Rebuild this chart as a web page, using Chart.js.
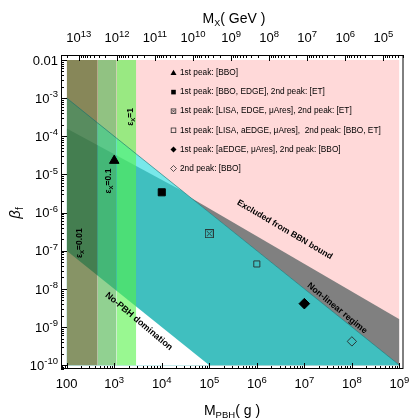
<!DOCTYPE html>
<html>
<head>
<meta charset="utf-8">
<script src="https://cdn.jsdelivr.net/npm/chart.js@4.4.0/dist/chart.umd.min.js"></script>
<style>
  html, body { margin: 0; padding: 0; background: #fff; }
  #wrap { width: 410px; height: 420px; }
</style>
</head>
<body>
<div id="wrap"><canvas id="chart" width="410" height="420"></canvas></div>
<script>
// 數據點：M_PBH (g) 與 β_f
const mPBH = [1e3, 1e4, 1e5, 1e6, 1e7, 1e8];
const betaF = [2.3e-5, 3.4e-6, 2.8e-7, 4.5e-8, 4.1e-9, 4.2e-10];
const peakLabels = [
  '1st peak: [BBO]',
  '1st peak: [BBO, EDGE], 2nd peak: [ET]',
  '1st peak: [LISA, EDGE, \u03bcAres], 2nd peak: [ET]',
  '1st peak: [LISA, aEDGE, \u03bcAres],  2nd peak: [BBO, ET]',
  '1st peak: [aEDGE, \u03bcAres], 2nd peak: [BBO]',
  '2nd peak: [BBO]'
];

// 區域邊界
const bbnM = [1e2, 1e9];              // 青色區上緣
const bbnBeta = [1e-3, 1e-10];
const nonLinM = [4e4, 1e9];           // 非線性區上緣
const nonLinBeta = [2.5e-6, 1.6e-9];
const cyanLowM = [1e2, 2.6e4];        // 淺青色楔形下緣
const cyanLowBeta = [1.6e-4, 3.8e-6];
const noPbhM = [1e2, 1e5];            // No-PBH domination
const noPbhBeta = [1e-7, 1e-10];
const epsEdges = [1e2, 450, 1120, 2900];
const epsValues = ['0.01', '0.1', '1'];
const betaTop = 1e-2, betaBottom = 1e-10;

// 刻度標籤（^ 之後為上標）
const xTickVals = [1e2, 1e3, 1e4, 1e5, 1e6, 1e7, 1e8, 1e9];
const xTickLabels = ['100', '10^3', '10^4', '10^5', '10^6', '10^7', '10^8', '10^9'];
const yTickVals = [1e-2, 1e-3, 1e-4, 1e-5, 1e-6, 1e-7, 1e-8, 1e-9, 1e-10];
const yTickLabels = ['0.01', '10^-3', '10^-4', '10^-5', '10^-6', '10^-7', '10^-8', '10^-9', '10^-10'];
const mxTickVals = [1e13, 1e12, 1e11, 1e10, 1e9, 1e8, 1e7, 1e6, 1e5];
const mxTickLabels = ['10^13', '10^12', '10^11', '10^10', '10^9', '10^8', '10^7', '10^6', '10^5'];

const FONT = '"Liberation Sans", Arial, sans-serif';
Chart.defaults.font.family = FONT;
Chart.defaults.color = '#000';

function pts(xs, ys) { return xs.map((x, i) => ({x: x, y: ys[i]})); }

// 填色區域
function region(data, color, order) {
  return {
    data: data, showLine: true, borderWidth: 0, borderColor: 'rgba(0,0,0,0)',
    backgroundColor: color, pointRadius: 0, pointHoverRadius: 0,
    fill: {value: betaBottom}, order: order
  };
}

// 帶叉方框點樣式
function crossSquare(size) {
  const c = document.createElement('canvas');
  c.width = c.height = size;
  const g = c.getContext('2d');
  g.strokeStyle = '#2a3a3a';
  g.lineWidth = 1;
  g.strokeRect(0.5, 0.5, size - 1, size - 1);
  g.beginPath();
  g.moveTo(2, 2); g.lineTo(size - 2, size - 2);
  g.moveTo(size - 2, 2); g.lineTo(2, size - 2);
  g.stroke();
  return c;
}

const bandColors = ['rgba(70,90,20,0.65)', 'rgba(72,178,72,0.6)', 'rgba(85,243,72,0.6)'];

const datasets = [];
// 點
datasets.push({
  data: pts(mPBH, betaF),
  pointStyle: ['triangle', 'rect', crossSquare(9), 'rect', 'rectRot', 'rectRot'],
  pointRadius: [5.5, 5, 5, 4.3, 5.3, 4.7],
  backgroundColor: ['#000', '#000', 'rgba(0,0,0,0)', 'rgba(0,0,0,0)', '#000', 'rgba(0,0,0,0)'],
  borderColor: ['#000', '#000', '#2a3a3a', '#2a3a3a', '#000', '#2a3a3a'],
  pointBorderWidth: 1,
  order: 0
});
// 青色區上緣線
datasets.push({
  data: pts(bbnM, bbnBeta), showLine: true, borderWidth: 1,
  borderColor: 'rgba(20,110,110,0.6)', pointRadius: 0, fill: false, order: 1
});
// ε_X 帶
for (let i = 0; i < 3; i++) {
  datasets.push(region(pts([epsEdges[i], epsEdges[i + 1]], [betaTop, betaTop]), bandColors[i], 2));
}
datasets.push(region(pts(noPbhM, noPbhBeta), '#ffffff', 3));
datasets.push(region(pts(cyanLowM.concat([bbnM[1]]), cyanLowBeta.concat([bbnBeta[1]])), '#40bfbf', 4));
datasets.push(region(pts(bbnM, bbnBeta), '#78e8ea', 5));
datasets.push(region(pts(nonLinM, nonLinBeta), '#808080', 6));
datasets.push(region(pts([1e2, 1e9], [betaTop, betaTop]), '#ffd9d9', 7));

// 多段文字（下標）
function richText(ctx, parts, x, y, align) {
  let w = 0;
  parts.forEach(p => { ctx.font = p.f; w += ctx.measureText(p.t).width; });
  let cx = align === 'center' ? x - w / 2 : (align === 'right' ? x - w : x);
  parts.forEach(p => {
    ctx.font = p.f;
    ctx.fillText(p.t, cx, y + (p.dy || 0));
    cx += ctx.measureText(p.t).width;
  });
}

// 刻度文字：10 + 上標
function tickParts(label) {
  const s = label.split('^');
  const parts = [{t: s[0], f: '13px ' + FONT}];
  if (s.length > 1) parts.push({t: s[1], f: '9.5px ' + FONT, dy: -5.5});
  return parts;
}

function logTicks(min, max) {
  const out = [];
  for (let e = Math.floor(Math.log10(min)); e <= Math.ceil(Math.log10(max)); e++) {
    for (let k = 1; k < 10; k++) {
      const v = k * Math.pow(10, e);
      if (v >= min && v <= max) out.push({v: v, major: k === 1});
    }
  }
  return out;
}

// 圖例標記
function drawMarker(ctx, i, x, y) {
  ctx.save();
  ctx.fillStyle = '#000';
  ctx.strokeStyle = '#333';
  ctx.lineWidth = 0.8;
  ctx.beginPath();
  if (i === 0) {
    ctx.moveTo(x, y - 3.2); ctx.lineTo(x + 3, y + 2); ctx.lineTo(x - 3, y + 2); ctx.closePath(); ctx.fill();
  } else if (i === 1) {
    ctx.fillRect(x - 2.3, y - 2.3, 4.6, 4.6);
  } else if (i === 2 || i === 3) {
    ctx.strokeRect(x - 2.3, y - 2.3, 4.6, 4.6);
    if (i === 2) { ctx.moveTo(x - 1.5, y - 1.5); ctx.lineTo(x + 1.5, y + 1.5); ctx.moveTo(x + 1.5, y - 1.5); ctx.lineTo(x - 1.5, y + 1.5); ctx.stroke(); }
  } else {
    ctx.moveTo(x, y - 3); ctx.lineTo(x + 3, y); ctx.lineTo(x, y + 3); ctx.lineTo(x - 3, y); ctx.closePath();
    if (i === 4) ctx.fill(); else ctx.stroke();
  }
  ctx.restore();
}

const annotate = {
  id: 'annotate',
  afterDraw(chart) {
    const {ctx, chartArea: a, scales} = chart;
    const sx = scales.x, sy = scales.y, sx2 = scales.x2;
    ctx.save();
    ctx.fillStyle = '#000';
    ctx.strokeStyle = '#000';

    // 外框
    ctx.lineWidth = 1;
    ctx.strokeRect(a.left + 0.5, a.top + 0.5, a.right - a.left - 1, a.bottom - a.top - 1);

    // 向內刻度
    ctx.beginPath();
    logTicks(sx.min, sx.max).forEach(t => {
      const px = Math.round(sx.getPixelForValue(t.v)) + 0.5;
      ctx.moveTo(px, a.bottom); ctx.lineTo(px, a.bottom - (t.major ? 6 : 3));
    });
    logTicks(sx2.min, sx2.max).forEach(t => {
      const px = Math.round(sx2.getPixelForValue(t.v)) + 0.5;
      ctx.moveTo(px, a.top); ctx.lineTo(px, a.top + (t.major ? 6 : 3));
    });
    logTicks(sy.min, sy.max).forEach(t => {
      const py = Math.round(sy.getPixelForValue(t.v)) + 0.5;
      ctx.moveTo(a.left, py); ctx.lineTo(a.left + (t.major ? 6 : 3), py);
    });
    ctx.stroke();

    // 刻度文字
    ctx.textBaseline = 'alphabetic';
    xTickVals.forEach((v, i) => richText(ctx, tickParts(xTickLabels[i]), sx.getPixelForValue(v), a.bottom + 19, 'center'));
    mxTickVals.forEach((v, i) => richText(ctx, tickParts(mxTickLabels[i]), sx2.getPixelForValue(v), a.top - 13, 'center'));
    yTickVals.forEach((v, i) => richText(ctx, tickParts(yTickLabels[i]), a.left - 3, sy.getPixelForValue(v) + 4.7, 'right'));

    // 軸標題
    richText(ctx, [
      {t: 'M', f: '14px ' + FONT},
      {t: 'X', f: '9px ' + FONT, dy: 3},
      {t: '( GeV )', f: '14px ' + FONT}
    ], 234, 23, 'center');
    richText(ctx, [
      {t: 'M', f: '14px ' + FONT},
      {t: 'PBH', f: '9.5px ' + FONT, dy: 3},
      {t: '( g )', f: '14px ' + FONT}
    ], 232, 415, 'center');
    ctx.save();
    ctx.translate(20, 213);
    ctx.rotate(-Math.PI / 2);
    richText(ctx, [
      {t: '\u03b2', f: 'italic 15px ' + FONT},
      {t: 'f', f: '10px ' + FONT, dy: 3}
    ], 0, 0, 'center');
    ctx.restore();

    // 圖例
    ctx.textBaseline = 'middle';
    ctx.font = '8.3px ' + FONT;
    peakLabels.forEach((lab, i) => {
      const y = 73 + i * 19.1;
      drawMarker(ctx, i, 173.5, y);
      ctx.fillText(lab, 180, y);
    });

    // 區域文字
    function rotLabel(parts, m, b, deg) {
      ctx.save();
      ctx.translate(sx.getPixelForValue(m), sy.getPixelForValue(b));
      ctx.rotate(deg * Math.PI / 180);
      richText(ctx, parts, 0, 0, 'center');
      ctx.restore();
    }
    const bold = s => 'bold ' + s + 'px ' + FONT;
    rotLabel([{t: 'Excluded from BBN bound', f: bold(8.6)}], 3.86e6, 3.56e-7, 30.5);
    rotLabel([{t: 'Non-linear regime', f: bold(8.8)}], 4.89e7, 3.1e-9, 39.5);
    rotLabel([{t: 'No-PBH domination', f: bold(9)}], 3300, 1.41e-9, 40);
    const epsPos = [[191, 1.58e-7], [776, 6.7e-6], [2240, 3.2e-4]];
    epsValues.forEach((v, i) => {
      rotLabel([
        {t: '\u03b5', f: bold(8.5)},
        {t: 'X', f: bold(6), dy: 2},
        {t: '=' + v, f: bold(8.5)}
      ], epsPos[i][0], epsPos[i][1], -90);
    });
    ctx.restore();
  }
};

const chart = new Chart(document.getElementById('chart').getContext('2d'), {
  type: 'scatter',
  data: {datasets: datasets},
  options: {
    responsive: false,
    animation: false,
    events: [],
    layout: {padding: {left: 0, right: 6, top: 0, bottom: 0}},
    plugins: {legend: {display: false}, tooltip: {enabled: false}},
    scales: {
      x: {
        type: 'logarithmic', position: 'bottom',
        min: Math.pow(10, 1.88), max: Math.pow(10, 9.086),
        grid: {display: false, drawTicks: false},
        border: {display: false},
        ticks: {display: false},
        afterFit: s => { s.height = 51; s.paddingLeft = 0; s.paddingRight = 0; }
      },
      x2: {
        type: 'logarithmic', position: 'top', reverse: true,
        min: Math.pow(10, 4.47), max: Math.pow(10, 13.47),
        grid: {display: false, drawTicks: false},
        border: {display: false},
        ticks: {display: false},
        afterFit: s => { s.height = 55; s.paddingLeft = 0; s.paddingRight = 0; }
      },
      y: {
        type: 'logarithmic', position: 'left',
        min: Math.pow(10, -10.1), max: Math.pow(10, -1.87),
        grid: {display: false, drawTicks: false},
        border: {display: false},
        ticks: {display: false},
        afterFit: s => { s.width = 61; s.paddingTop = 0; s.paddingBottom = 0; }
      }
    }
  },
  plugins: [annotate]
});
</script>
</body>
</html>
